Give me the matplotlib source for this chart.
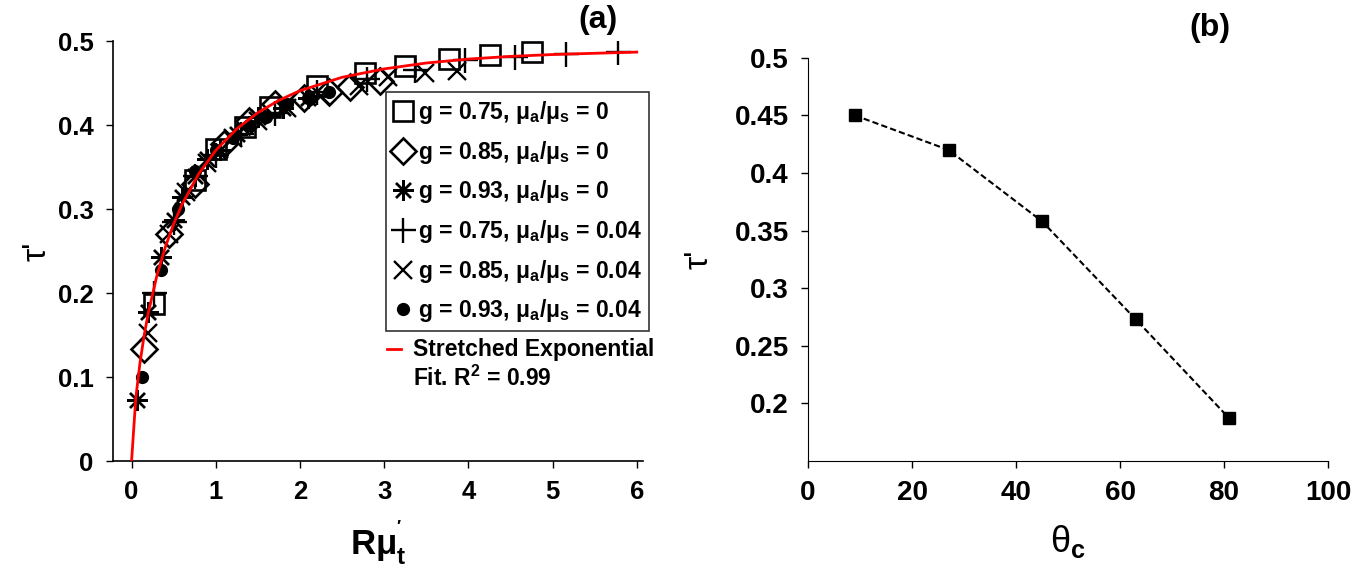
import matplotlib
matplotlib.use("Agg")
import matplotlib.pyplot as plt
from matplotlib import font_manager

plt.rcParams['font.family'] = ['Liberation Sans', 'DejaVu Sans']
plt.rcParams['font.weight'] = 'bold'
plt.rcParams['mathtext.fontset'] = 'custom'
plt.rcParams['mathtext.rm'] = 'Liberation Sans:bold'
plt.rcParams['mathtext.bf'] = 'Liberation Sans:bold'
plt.rcParams['mathtext.it'] = 'Liberation Sans:bold'
plt.rcParams['mathtext.default'] = 'bf'

names = {f.name for f in font_manager.fontManager.ttflist}
narrow = 'Liberation Sans Narrow' if 'Liberation Sans Narrow' in names else 'Liberation Sans'

# ---------------- Panel (a) data ----------------
sq_x = [0.27, 0.75, 1.0, 1.35, 1.65, 2.2, 2.77, 3.25, 3.77, 4.26, 4.76]
sq_y = [0.187, 0.335, 0.372, 0.398, 0.422, 0.447, 0.462, 0.471, 0.479, 0.484, 0.487]

di_x = [0.15, 0.45, 0.75, 1.1, 1.4, 1.7, 2.05, 2.35, 2.6, 2.95]
di_y = [0.133, 0.27, 0.33, 0.378, 0.405, 0.425, 0.432, 0.44, 0.445, 0.452]

as_x = [0.07, 0.2, 0.35, 0.5, 0.6, 0.75, 0.9, 1.05, 1.25, 1.5, 1.8, 2.1]
as_y = [0.073, 0.178, 0.243, 0.287, 0.315, 0.34, 0.36, 0.37, 0.39, 0.41, 0.42, 0.432]

pl_x = [0.27, 0.5, 0.75, 1.0, 1.3, 1.7, 2.2, 2.8, 3.37, 3.96, 4.56, 5.16, 5.78]
pl_y = [0.2, 0.285, 0.34, 0.365, 0.39, 0.415, 0.44, 0.455, 0.466, 0.477, 0.481, 0.485, 0.487]

xm_x = [0.2, 0.45, 0.65, 0.9, 1.2, 1.5, 1.85, 2.25, 2.7, 3.05, 3.48, 3.87]
xm_y = [0.152, 0.27, 0.32, 0.355, 0.385, 0.405, 0.42, 0.435, 0.447, 0.457, 0.462, 0.465]

dt_x = [0.12, 0.35, 0.55, 0.75, 1.0, 1.2, 1.4, 1.6, 1.85, 2.1, 2.35]
dt_y = [0.1, 0.228, 0.3, 0.345, 0.37, 0.385, 0.4, 0.41, 0.425, 0.432, 0.44]

fit_x = [0, 0.05, 0.1, 0.15, 0.2, 0.3, 0.4, 0.5, 0.6, 0.8, 1.0, 1.25, 1.5, 1.75,
         2.0, 2.5, 3.0, 3.5, 4.0, 4.5, 5.0, 5.5, 6.0]
fit_y = [0, 0.075, 0.117, 0.150, 0.177, 0.2205, 0.2546, 0.2824, 0.3058, 0.3424,
         0.370, 0.3957, 0.4149, 0.4296, 0.441, 0.457, 0.467, 0.474, 0.4787,
         0.4819, 0.4841, 0.4856, 0.487]

labels_a = [
    r"g = 0.75, μ$_{a}$/μ$_{s}$ = 0",
    r"g = 0.85, μ$_{a}$/μ$_{s}$ = 0",
    r"g = 0.93, μ$_{a}$/μ$_{s}$ = 0",
    r"g = 0.75, μ$_{a}$/μ$_{s}$ = 0.04",
    r"g = 0.85, μ$_{a}$/μ$_{s}$ = 0.04",
    r"g = 0.93, μ$_{a}$/μ$_{s}$ = 0.04",
]
fit_label = "Stretched Exponential\nFit. R$^{2}$ = 0.99"

# ---------------- Panel (b) data ----------------
theta = [9, 27, 45, 63, 81]
tau_b = [0.45, 0.42, 0.358, 0.273, 0.187]

fig = plt.figure(figsize=(13.72, 5.72), dpi=100)
ax1 = fig.add_axes([0.0824, 0.194, 0.3866, 0.734])
ax2 = fig.add_axes([0.589, 0.194, 0.379, 0.705])

k = dict(linestyle='none', markeredgecolor='black', color='black')
h1, = ax1.plot(sq_x, sq_y, marker='s', markersize=14, markerfacecolor='none', markeredgewidth=1.9, **k)
h2, = ax1.plot(di_x, di_y, marker='D', markersize=13, markerfacecolor='none', markeredgewidth=1.9, **k)
h3, = ax1.plot(as_x, as_y, marker=(8, 2, 0), markersize=15, markeredgewidth=1.7, **k)
h4, = ax1.plot(pl_x, pl_y, marker='+', markersize=18, markeredgewidth=1.7, **k)
h5, = ax1.plot(xm_x, xm_y, marker='x', markersize=13, markeredgewidth=1.7, **k)
h6, = ax1.plot(dt_x, dt_y, marker='o', markersize=8.5, markerfacecolor='black', **k)
ax1.plot(fit_x, fit_y, color='#ff0000', linewidth=2.0, zorder=5)

ax1.set_xlim(-0.22, 6.08)
ax1.set_ylim(0, 0.5)
ax1.set_xticks([0, 1, 2, 3, 4, 5, 6])
ax1.set_yticks([0, 0.1, 0.2, 0.3, 0.4, 0.5])
ax1.set_yticklabels(['0', '0.1', '0.2', '0.3', '0.4', '0.5'])
for sp in ['top', 'right']:
    ax1.spines[sp].set_visible(False)
for sp in ['left', 'bottom']:
    ax1.spines[sp].set_linewidth(1.2)
ax1.tick_params(direction='out', length=5, width=1, labelsize=18.5, pad=9)
for t in ax1.get_xticklabels() + ax1.get_yticklabels():
    t.set_fontweight('bold')
ax1.set_xlabel(r"Rμ$_{t}^{'}$", fontsize=25, fontweight='bold', labelpad=10)
ax1.set_ylabel("τ'", fontsize=24, fontweight='normal', labelpad=4)

leg = ax1.legend([h1, h2, h3, h4, h5, h6], labels_a, loc='upper left',
                 bbox_to_anchor=(0.515, 0.878), frameon=True, fancybox=False,
                 edgecolor='black', fontsize=16.5, handlelength=0.85,
                 handletextpad=0.25, borderpad=0.3, labelspacing=0.55,
                 borderaxespad=0)
leg.get_frame().set_linewidth(1.2)
for t in leg.get_texts():
    t.set_fontweight('bold')

ax1.plot([0.516, 0.542], [0.268, 0.268], transform=ax1.transAxes, color='#ff0000', linewidth=2, clip_on=False)
ax1.text(0.565, 0.293, fit_label, transform=ax1.transAxes, fontsize=16.5,
         fontweight='bold', va='top', ha='left', linespacing=1.25)
fig.text(598 / 1372, 1 - 20 / 572, '(a)', fontsize=23, fontweight='bold', ha='center', va='center')

# Panel (b)
ax2.plot(theta, tau_b, color='black', linestyle='--', linewidth=1.5,
         marker='s', markersize=9, markerfacecolor='black', markeredgecolor='black', dashes=(3, 1.5))
ax2.set_xlim(0, 100)
ax2.set_ylim(0.15, 0.5)
ax2.set_xticks([0, 20, 40, 60, 80, 100])
ax2.set_yticks([0.2, 0.25, 0.3, 0.35, 0.4, 0.45, 0.5])
ax2.set_yticklabels(['0.2', '0.25', '0.3', '0.35', '0.4', '0.45', '0.5'])
for sp in ['top', 'right']:
    ax2.spines[sp].set_visible(False)
ax2.tick_params(direction='out', length=5, width=1, labelsize=20, pad=9)
for t in ax2.get_xticklabels() + ax2.get_yticklabels():
    t.set_fontweight('bold')
    t.set_fontfamily([narrow, 'DejaVu Sans'])
ax2.set_xlabel(r"θ$_{c}$", fontsize=26, fontweight='normal', labelpad=12)
ax2.set_ylabel("τ'", fontsize=24, fontweight='normal', labelpad=14)
fig.text(1210 / 1372, 1 - 28 / 572, '(b)', fontsize=23, fontweight='bold', ha='center', va='center')

fig.savefig('out.png', dpi=100)
